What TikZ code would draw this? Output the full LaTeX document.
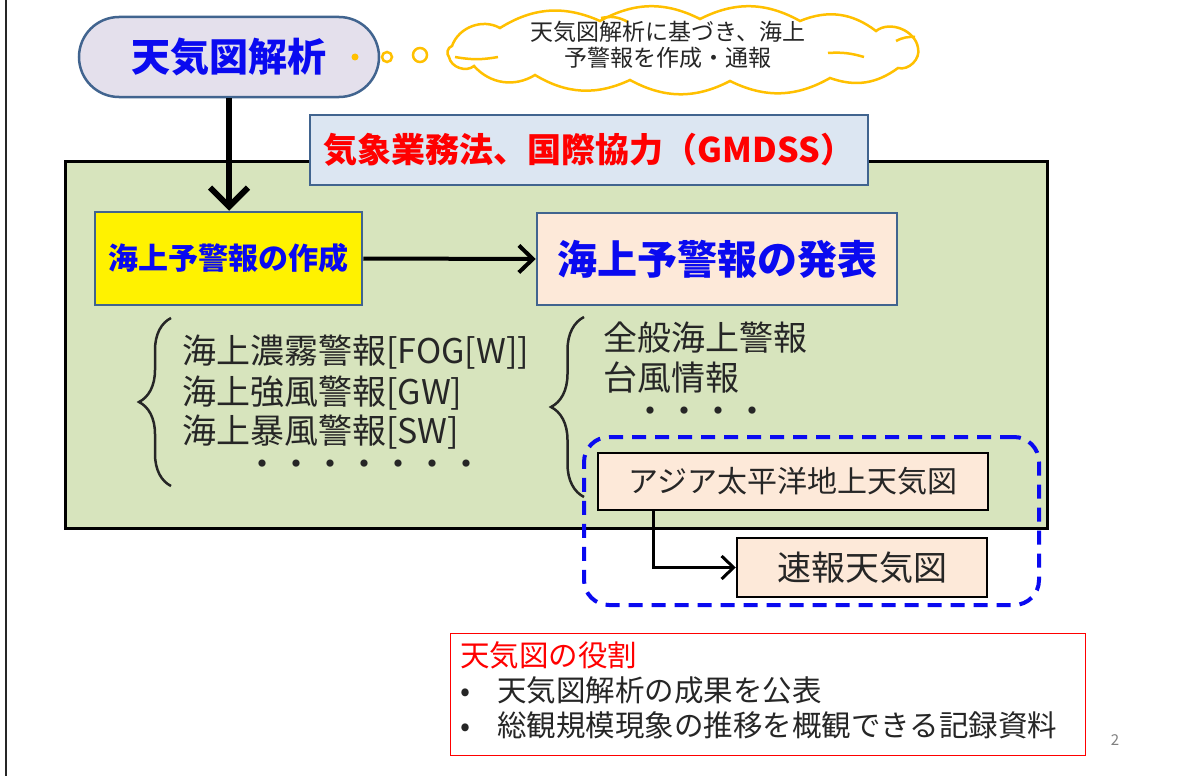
\documentclass[tikz,border=0pt]{standalone}
\usepackage{fontspec}
\setmainfont{Noto Sans CJK JP}
\usetikzlibrary{arrows.meta,decorations.pathreplacing}
\definecolor{frame}{HTML}{41648F}
\definecolor{pillfill}{HTML}{E4E0EC}
\definecolor{bluebox}{HTML}{DCE6F2}
\definecolor{greenbg}{HTML}{D7E4BD}
\definecolor{pinkfill}{HTML}{FDE9D9}
\definecolor{orangec}{HTML}{FFC000}
\definecolor{txt}{HTML}{262626}
\definecolor{tblue}{HTML}{0A0AF0}
\definecolor{tred}{HTML}{FF0000}
\newcommand{\fsz}[2]{\fontsize{#1}{#2}\selectfont}
\tikzset{
  framebox/.style={draw=frame, line width=2.5pt, inner sep=0pt},
  chartbox/.style={draw=black, line width=2.5pt, fill=pinkfill, inner sep=0pt, text=txt},
  listtext/.style={anchor=west, inner sep=0pt, text=txt, font=\fsz{34}{40}},
  roletext/.style={anchor=west, inner sep=0pt, text=txt, font=\fsz{29.5}{35}},
  bracestyle/.style={draw=txt, line width=2.5pt, decorate},
  bigarrow/.style={draw=black, line width=6pt, -{Straight Barb[length=19pt,width=38pt]}},
  midarrow/.style={draw=black, line width=4pt, -{Straight Barb[length=14pt,width=27pt]}},
  smallarrow/.style={draw=black, line width=3pt, -{Straight Barb[length=12pt,width=23pt]}},
  cloudline/.style={draw=orangec, line width=2.5pt},
}
\begin{document}
\begin{tikzpicture}[x=1pt,y=-1pt]
\useasboundingbox (0,0) rectangle (1188,776);
\fill[white] (0,0) rectangle (1188,776);
\draw[line width=2.5pt, black!85] (6,0) -- (6,776);

% green region
\node[draw=black, line width=2.5pt, fill=greenbg, minimum width=982pt, minimum height=367pt, inner sep=0pt, anchor=north west] (green) at (64,160) {};

% pill
\node[framebox, fill=pillfill, rounded corners=40pt, minimum width=300pt, minimum height=80pt, text=tblue, font=\fsz{39}{46}\bfseries] (pill) at (229,57) {天気図解析};
\node[circle, fill=orangec, minimum size=7pt, inner sep=0pt] (d1) at (355,57) {};
\node[circle, draw=orangec, line width=2.5pt, minimum size=10pt, inner sep=0pt] (d2) at (387,57) {};
\node[circle, draw=orangec, line width=2.5pt, minimum size=14pt, inner sep=0pt] (d3) at (420,55) {};

% cloud
\draw[cloudline, fill=white]
  (452,46) to[bend left=50] (500,28) to[bend left=28] (600,21) to[bend left=28] (700,19)
  to[bend left=28] (800,21) to[bend left=30] (876,31) to[bend left=60] (918,48)
  to[bend left=60] (898,68) to[bend left=28] (830,78) to[bend left=28] (730,81)
  to[bend left=28] (630,80) to[bend left=28] (535,75) to[bend left=40] (474,66)
  to[bend left=60] (449,57) to[bend left=60] (452,46) -- cycle;
\draw[cloudline] (455,57) to[bend right=10] (498,57);
\draw[cloudline] (828,53) to[bend left=10] (864,57);
\draw[cloudline] (896,41) to[bend left=15] (915,37);
\draw[cloudline] (601,18) to[bend left=20] (628,22);
\node[text=txt, align=center, inner sep=0pt, font=\fsz{23}{26}] (ctext) at (668,45) {天気図解析に基づき、海上\\予警報を作成・通報};

% law box
\node[framebox, fill=bluebox, minimum width=558pt, minimum height=70pt, text=tred, font=\fsz{34}{40}\bfseries] (law) at (589,150) {気象業務法、国際協力（GMDSS）};

% main boxes
\node[framebox, fill=yellow, minimum width=267pt, minimum height=93pt, text=tblue, font=\fsz{30}{36}\bfseries] (make) at (228.5,258.5) {海上予警報の作成};
\node[framebox, fill=pinkfill, minimum width=360pt, minimum height=92pt, text=tblue, font=\fsz{40}{46}\bfseries] (publish) at (717,259) {海上予警報の発表};

\draw[bigarrow] (pill.south) -- (pill.south |- make.north);
\draw[midarrow] (make.east) -- (publish.west);

% left list
\draw[bracestyle, decoration={brace, amplitude=32pt}] (171,486) -- (171,318);
\node[listtext] (l1) at (182,352) {海上濃霧警報[FOG[W]]};
\node[listtext] (l2) at (182,393) {海上強風警報[GW]};
\node[listtext] (l3) at (182,432) {海上暴風警報[SW]};
\node[listtext] (l4) at (245,468) {・・・・・・・};

% right list
\draw[bracestyle, decoration={brace, amplitude=33pt}] (584,497) -- (584,317);
\node[listtext] (r1) at (603,338) {全般海上警報};
\node[listtext] (r2) at (603,378) {台風情報};
\node[listtext] (r3) at (633,415) {・・・・};

% dashed group
\node[draw=tblue, line width=4pt, dash pattern=on 14pt off 9pt, rounded corners=25pt, minimum width=455pt, minimum height=168pt, inner sep=0pt] (group) at (811.5,521) {};
\node[chartbox, minimum width=390pt, minimum height=57pt, font=\fsz{30}{36}] (asia) at (793,481.5) {アジア太平洋地上天気図};
\node[chartbox, minimum width=250pt, minimum height=59pt, font=\fsz{34}{40}] (sokuho) at (862,567.5) {速報天気図};
\draw[smallarrow] ([xshift=-140pt]asia.south) |- (sokuho.west);

% role box
\node[draw=red, line width=1pt, fill=white, minimum width=635pt, minimum height=122pt, inner sep=0pt, anchor=north west] (role) at (450,633) {};
\node[roletext, text=red] (rt) at (460,655) {天気図の役割};
\node[roletext] (rb1) at (460,690) {\makebox[37pt][l]{•}天気図解析の成果を公表};
\node[roletext] (rb2) at (460,725) {\makebox[37pt][l]{•}総観規模現象の推移を概観できる記録資料};

\node[text=black!50, inner sep=0pt, font=\fsz{15}{18}] (page) at (1115,740) {2};
\end{tikzpicture}
\end{document}
